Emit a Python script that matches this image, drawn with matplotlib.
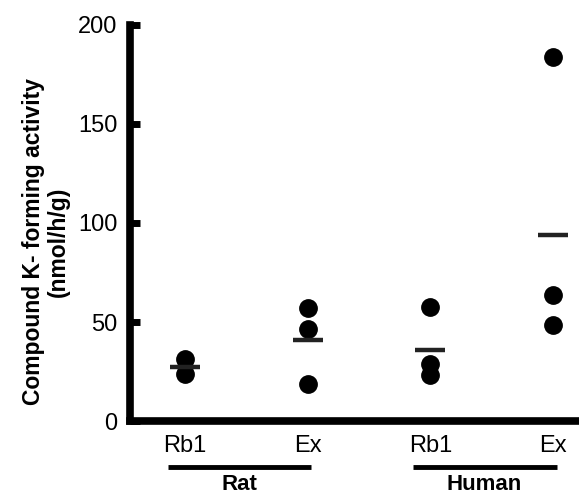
import numpy as np
import matplotlib
matplotlib.use("Agg")
import matplotlib.pyplot as plt
import matplotlib.transforms as mtransforms

plt.rcParams['font.family'] = ['Liberation Sans', 'DejaVu Sans']

# data
categories = ["Rb1", "Ex", "Rb1", "Ex"]
rat_rb1 = [31.5, 24]
rat_ex = [57, 46.5, 18.5]
human_rb1 = [57.5, 29, 23.5]
human_ex = [183.5, 63.5, 48.5]
means = [27.5, 40.8, 36.0, 94.0]
groups = ["Rat", "Human"]
group_span = [(0, 1), (2, 3)]
yticks = [0, 50, 100, 150, 200]

series = [rat_rb1, rat_ex, human_rb1, human_ex]

fig = plt.figure(figsize=(5.79, 4.96), dpi=100)
ax = fig.add_axes([0.224, 0.151, 0.776, 0.799])

for i, vals in enumerate(series):
    ax.plot([i] * len(vals), vals, 'o', color='black', markersize=12.5, clip_on=False)
ax.plot(range(len(means)), means, '_', color='#222222', markersize=22, mew=3.2)

ax.set_xlim(-0.45, 3.21)
ax.set_ylim(0, 200)
ax.set_yticks(yticks)
ax.set_xticks(range(len(categories)))
ax.set_xticklabels(categories)
ax.tick_params(axis='y', direction='in', length=7, width=5, labelsize=17, pad=9)
ax.tick_params(axis='x', length=0, labelsize=17, pad=10)

for s in ['top', 'right']:
    ax.spines[s].set_visible(False)
for s in ['left', 'bottom']:
    ax.spines[s].set_linewidth(5.5)

ax.set_ylabel("Compound K- forming activity\n(nmol/h/g)", fontsize=16.5, fontweight='bold',
              linespacing=1.1)
ax.yaxis.set_label_coords(-0.134, 0.452)

trans = mtransforms.blended_transform_factory(ax.transData, ax.transAxes)
for name, (a, b) in zip(groups, group_span):
    ax.plot([a - 0.14, b + 0.03], [-0.116, -0.116], color='black', lw=3.5,
            transform=trans, clip_on=False, solid_capstyle='butt')
    ax.text((a + b) / 2 - 0.06, -0.159, name, transform=trans, ha='center', va='center',
            fontsize=16, fontweight='bold')

fig.savefig("out.png", dpi=100)
